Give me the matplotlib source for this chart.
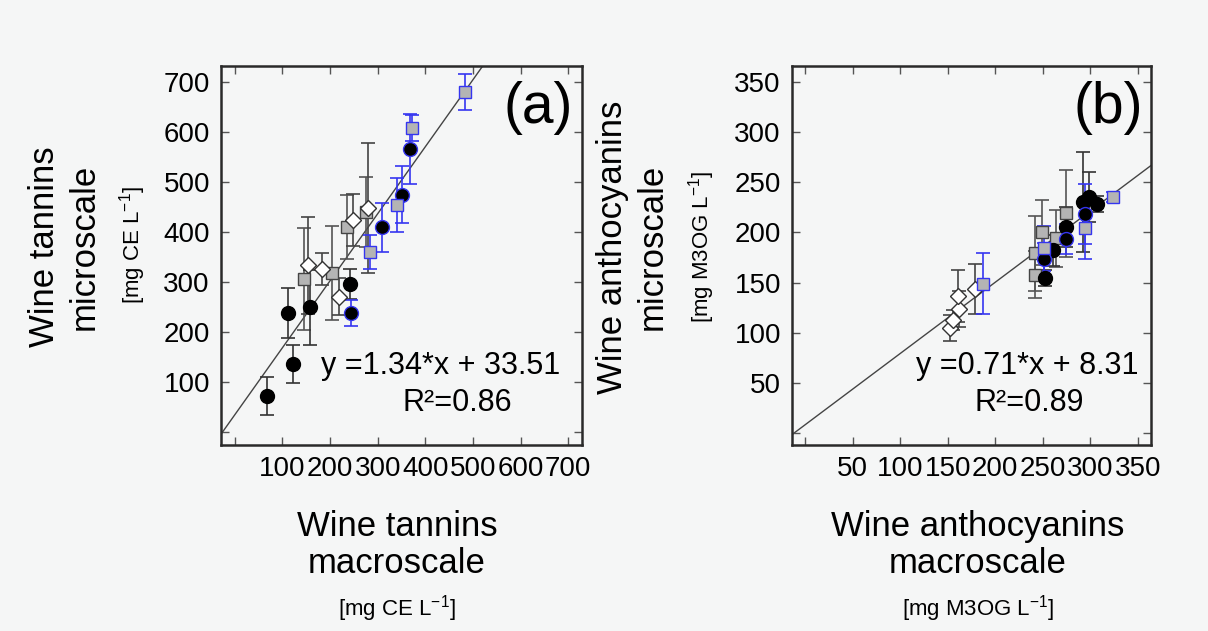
import numpy as np
import matplotlib.pyplot as plt

plt.rcParams['font.family'] = ['Liberation Sans', 'DejaVu Sans']
plt.rcParams['mathtext.fontset'] = 'custom'
plt.rcParams['mathtext.rm'] = 'Liberation Sans'

# ---- panel (a): wine tannins ----
a_circ_k_x = [67, 123, 112, 158, 242]
a_circ_k_y = [72, 135, 238, 249, 295]
a_circ_k_e = [38, 38, 50, 75, 30]

a_circ_b_x = [244, 309, 352, 368]
a_circ_b_y = [237, 409, 474, 565]
a_circ_b_e = [26, 49, 57, 70]

a_sq_k_x = [146, 205, 235, 276]
a_sq_k_y = [305, 317, 409, 440]
a_sq_k_e = [102, 94, 64, 70]

a_sq_b_x = [284, 340, 371, 484]
a_sq_b_y = [359, 453, 608, 679]
a_sq_b_e = [34, 54, 26, 36]

a_dia_x = [154, 184, 219, 249, 279]
a_dia_y = [333, 325, 270, 423, 447]
a_dia_e = [97, 32, 37, 52, 130]

a_fit = (1.34, 33.51)
a_r2 = 0.86

# ---- panel (b): wine anthocyanins ----
b_circ_k_x = [252, 261, 274, 292, 299, 307]
b_circ_k_y = [155, 182, 205, 230, 235, 228]
b_circ_k_e = [8, 15, 20, 50, 25, 8]

b_circ_b_x = [251, 274, 294]
b_circ_b_y = [174, 193, 218]
b_circ_b_e = [15, 15, 30]

b_sq_k_x = [241.5, 241.5, 249, 264, 275]
b_sq_k_y = [158, 179, 200, 194, 219]
b_sq_k_e = [23, 37, 32, 28, 43]

b_sq_b_x = [187, 251, 294, 324.5]
b_sq_b_y = [149, 184, 204, 235]
b_sq_b_e = [30, 22, 30, 5]

b_dia_x = [152, 156, 162, 161, 178.5]
b_dia_y = [105, 113, 124, 137, 144]
b_dia_e = [13, 10, 18, 26, 25]

b_fit = (0.71, 8.31)
b_r2 = 0.89

BG = '#f5f6f6'
BLUE = '#3535f0'
GRAYFILL = '#b4b4b4'

W, H = 1208, 631
fig = plt.figure(figsize=(W / 100, H / 100), dpi=100, facecolor=BG)


def px_axes(l, t, r, b):
    return fig.add_axes([l / W, 1 - b / H, (r - l) / W, (b - t) / H])


def errpts(ax, x, y, e, ecolor, **kw):
    ax.errorbar(x, y, yerr=e, fmt='none', ecolor=ecolor, elinewidth=1.2,
                capsize=5, capthick=1.2, zorder=2)
    ax.plot(x, y, linestyle='none', zorder=3, **kw)


def draw_panel(ax, d, fit, r2, lim, step, tag, eqpos):
    ax.set_facecolor(BG)
    xs = np.array(lim)
    ax.plot(xs, fit[0] * xs + fit[1], color='#444444', lw=1, zorder=1)

    errpts(ax, d['sqk'][0], d['sqk'][1], d['sqk'][2], '#555555',
           marker='s', ms=9, mfc=GRAYFILL, mec='#444444', mew=1)
    errpts(ax, d['dia'][0], d['dia'][1], d['dia'][2], '#444444',
           marker='D', ms=8.5, mfc='white', mec='#333333', mew=1)
    errpts(ax, d['ck'][0], d['ck'][1], d['ck'][2], '#333333',
           marker='o', ms=10, mfc='black', mec='black')
    errpts(ax, d['cb'][0], d['cb'][1], d['cb'][2], BLUE,
           marker='o', ms=10, mfc='black', mec=BLUE, mew=1)
    errpts(ax, d['sqb'][0], d['sqb'][1], d['sqb'][2], BLUE,
           marker='s', ms=9, mfc=GRAYFILL, mec=BLUE, mew=1)

    ax.set_xlim(lim)
    ax.set_ylim(lim[0] + 2, lim[1] + 2)
    ticks = np.arange(0, lim[1], step)
    labels = [''] + [str(int(t)) for t in ticks[1:]]
    ax.set_xticks(ticks, labels)
    ax.set_yticks(ticks, labels)
    ax.tick_params(direction='in', top=True, right=True, length=6, width=1,
                   color='#555555', labelsize=20, pad=8)
    for s in ax.spines.values():
        s.set_linewidth(1.8)
        s.set_color('#2a2a2a')

    ax.text(0.88, 0.89, tag, transform=ax.transAxes, fontsize=41,
            ha='center', va='center')
    ax.text(eqpos[0], 0.208, f'y ={fit[0]:.2f}*x + {fit[1]:.2f}',
            transform=ax.transAxes, fontsize=22, ha='center', va='center')
    ax.text(eqpos[1], 0.111, f'R²={r2:.2f}', transform=ax.transAxes,
            fontsize=22, ha='center', va='center')


def ftext(x, y, s, **kw):
    fig.text(x / W, 1 - y / H, s, ha='center', va='center', **kw)


ax_a = px_axes(221, 66, 582, 445)
draw_panel(ax_a, {'ck': (a_circ_k_x, a_circ_k_y, a_circ_k_e),
                  'cb': (a_circ_b_x, a_circ_b_y, a_circ_b_e),
                  'sqk': (a_sq_k_x, a_sq_k_y, a_sq_k_e),
                  'sqb': (a_sq_b_x, a_sq_b_y, a_sq_b_e),
                  'dia': (a_dia_x, a_dia_y, a_dia_e)},
           a_fit, a_r2, (-29, 729), 100, '(a)', (0.609, 0.654))

ax_b = px_axes(792, 66, 1151, 445)
draw_panel(ax_b, {'ck': (b_circ_k_x, b_circ_k_y, b_circ_k_e),
                  'cb': (b_circ_b_x, b_circ_b_y, b_circ_b_e),
                  'sqk': (b_sq_k_x, b_sq_k_y, b_sq_k_e),
                  'sqb': (b_sq_b_x, b_sq_b_y, b_sq_b_e),
                  'dia': (b_dia_x, b_dia_y, b_dia_e)},
           b_fit, b_r2, (-14, 364), 50, '(b)', (0.655, 0.662))

unit_a = '[mg CE L$^{\\mathregular{-1}}$]'
unit_b = '[mg M3OG L$^{\\mathregular{-1}}$]'

ftext(64, 247, 'Wine tannins\nmicroscale', rotation=90, fontsize=25, linespacing=1.25)
ftext(133, 245, unit_a, rotation=90, fontsize=16)
ftext(397, 545, 'Wine tannins\nmacroscale', fontsize=25, linespacing=1.15)
ftext(397, 609, unit_a, fontsize=16)

ftext(632, 247, 'Wine anthocyanins\nmicroscale', rotation=90, fontsize=25, linespacing=1.25)
ftext(702, 247, unit_b, rotation=90, fontsize=16)
ftext(978, 545, 'Wine anthocyanins\nmacroscale', fontsize=25, linespacing=1.15)
ftext(978, 609, unit_b, fontsize=16)

fig.savefig('out.png', dpi=100, facecolor=BG)
